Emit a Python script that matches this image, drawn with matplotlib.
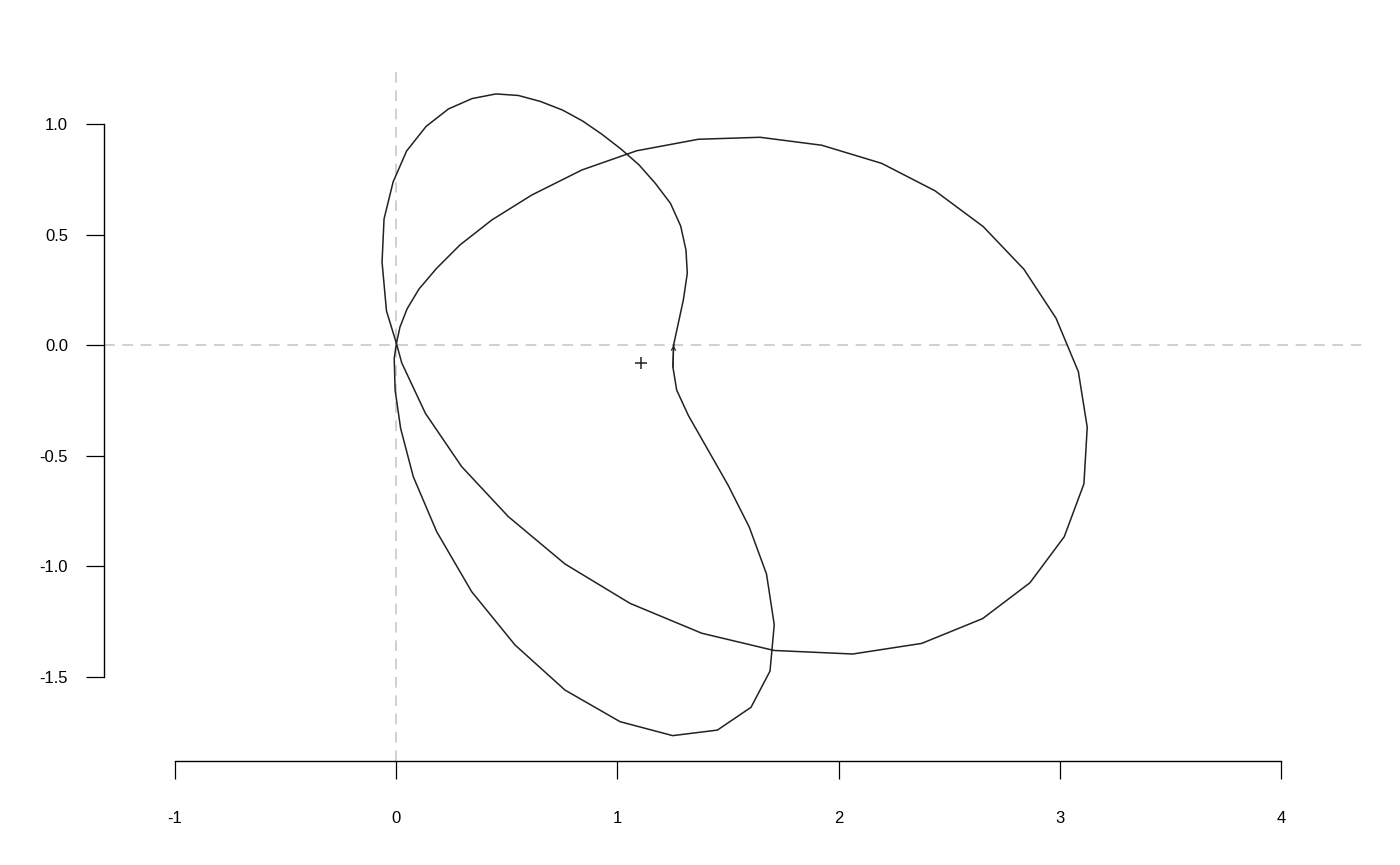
import numpy as np
import matplotlib
matplotlib.use("Agg")
import matplotlib.pyplot as plt

plt.rcParams['font.family'] = ['Liberation Sans', 'DejaVu Sans']
plt.rcParams['axes.unicode_minus'] = False

# closed curve (starts and ends at the arrow)
curve_x = [1.254, 1.298, 1.316, 1.310, 1.286, 1.240, 1.172, 1.098, 1.016, 0.928,
           0.842, 0.752, 0.652, 0.552, 0.451, 0.343, 0.236, 0.135, 0.047, -0.014,
           -0.055, -0.064, -0.044, 0.001,
           0.025, 0.132, 0.296, 0.507, 0.763, 1.057, 1.381, 1.708, 2.064, 2.376,
           2.651, 2.865, 3.020, 3.109, 3.124, 3.084, 2.983, 2.838, 2.654, 2.436,
           2.195, 1.924, 1.645, 1.366, 1.087, 0.839, 0.613, 0.432, 0.288, 0.183,
           0.103, 0.049, 0.017, 0.001,
           -0.009, -0.005, 0.020, 0.077, 0.183, 0.341, 0.537, 0.763, 1.012, 1.250,
           1.452, 1.604, 1.690, 1.709, 1.674, 1.596, 1.500, 1.321, 1.268, 1.251,
           1.254]
curve_y = [0.001, 0.204, 0.325, 0.430, 0.539, 0.641, 0.731, 0.815, 0.887, 0.955,
           1.014, 1.063, 1.102, 1.129, 1.136, 1.115, 1.068, 0.989, 0.878, 0.738,
           0.571, 0.376, 0.155, 0.008,
           -0.080, -0.308, -0.549, -0.775, -0.989, -1.167, -1.302, -1.380, -1.396, -1.348,
           -1.236, -1.074, -0.866, -0.627, -0.371, -0.120, 0.122, 0.343, 0.536, 0.698,
           0.822, 0.904, 0.940, 0.931, 0.879, 0.792, 0.679, 0.566, 0.453, 0.348,
           0.254, 0.164, 0.082, 0.008,
           -0.059, -0.203, -0.376, -0.594, -0.843, -1.114, -1.355, -1.559, -1.702, -1.765,
           -1.740, -1.637, -1.473, -1.263, -1.034, -0.822, -0.632, -0.318, -0.203, -0.099,
           0.001]

center = (1.107, -0.080)

x_ticks = [-1, 0, 1, 2, 3, 4]
y_ticks = [-1.5, -1.0, -0.5, 0.0, 0.5, 1.0]
y_labels = ['-1.5', '-1.0', '-0.5', '0.0', '0.5', '1.0']

fig = plt.figure(figsize=(14, 8.65), dpi=100)
ax = fig.add_axes([0.07429, 0.12023, 0.89857, 0.80116])

ax.axhline(0, color='#c4c4c4', lw=1.1, ls=(0, (7, 5)), zorder=1)
ax.axvline(0, color='#c4c4c4', lw=1.1, ls=(0, (7, 5)), zorder=1)

ax.plot(curve_x, curve_y, color='#222222', lw=1.1, zorder=3)
# little arrow head showing the direction of travel
ax.annotate('', xy=(curve_x[-1], curve_y[-1]), xytext=(curve_x[-2], curve_y[-2]),
            arrowprops=dict(arrowstyle='->', color='#222222', lw=0.9,
                            mutation_scale=7, shrinkA=0, shrinkB=0))
ax.plot(center[0], center[1], marker='+', color='#222222', ms=8, mew=1.1, zorder=4)

ax.set_xlim(-1.3210, 4.3662)
ax.set_ylim(-1.8797, 1.2532)

for s in ['top', 'right']:
    ax.spines[s].set_visible(False)
ax.spines['left'].set_bounds(-1.5, 1.0)
ax.spines['bottom'].set_bounds(-1, 4)
for s in ['left', 'bottom']:
    ax.spines[s].set_linewidth(1.0)
    ax.spines[s].set_color('black')

ax.set_xticks(x_ticks)
ax.set_xticklabels([str(t) for t in x_ticks])
ax.set_yticks(y_ticks)
ax.set_yticklabels(y_labels)
ax.tick_params(axis='both', direction='out', length=13, width=0.9, labelsize=12)
ax.tick_params(axis='x', pad=23)
ax.tick_params(axis='y', pad=13)

fig.savefig('out.png', dpi=100)
